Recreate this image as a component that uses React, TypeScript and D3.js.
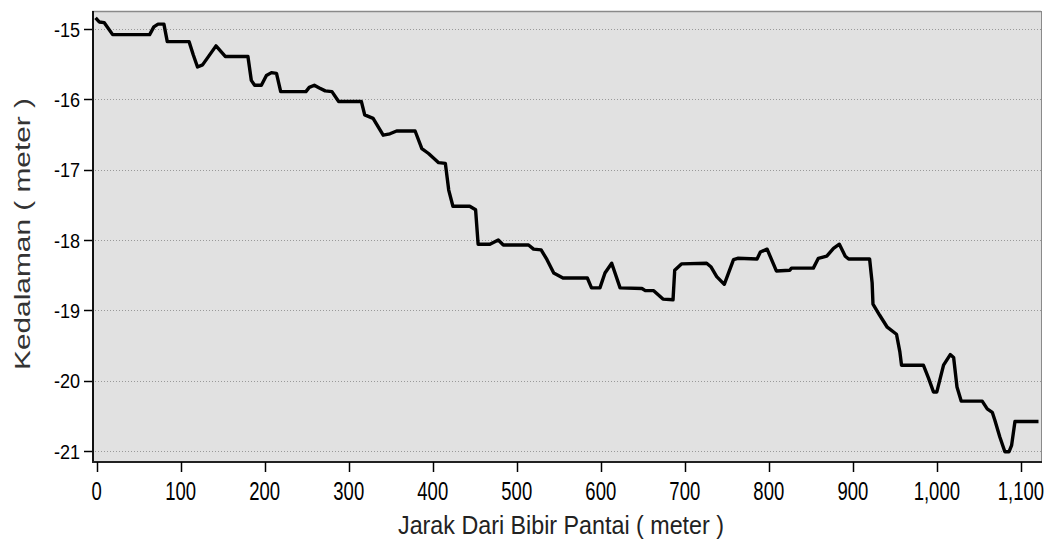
import React from "react";
import * as d3 from "d3";

const distance = [0, 3, 9, 19, 63, 68, 73, 80, 84, 110, 115, 120, 126, 142, 153, 180, 184, 188, 196, 202, 208, 214, 219, 249, 253, 259, 265, 272, 280, 288, 315, 319, 329, 341, 349, 357, 379, 387, 395, 407, 415, 419, 424, 444, 451, 454, 468, 478, 484, 514, 520, 529, 536, 544, 555, 584, 589, 599, 605, 613, 623, 649, 653, 663, 674, 686, 688, 696, 726, 731, 738, 747, 758, 763, 786, 790, 798, 809, 825, 827, 853, 859, 869, 877, 884, 891, 895, 920, 923, 924, 932, 941, 952, 956, 958, 984, 990, 996, 1000, 1008, 1016, 1020, 1024, 1029, 1054, 1060, 1066, 1069, 1075, 1081, 1086, 1089, 1093, 1119];

const depth = [-14.86, -14.90, -14.91, -15.08, -15.08, -14.97, -14.93, -14.93, -15.18, -15.18, -15.37, -15.54, -15.51, -15.24, -15.39, -15.39, -15.73, -15.80, -15.80, -15.66, -15.62, -15.63, -15.89, -15.89, -15.83, -15.80, -15.84, -15.88, -15.89, -16.03, -16.03, -16.22, -16.27, -16.51, -16.49, -16.45, -16.45, -16.70, -16.77, -16.90, -16.91, -17.29, -17.52, -17.52, -17.57, -18.06, -18.06, -18.00, -18.07, -18.07, -18.13, -18.14, -18.28, -18.47, -18.54, -18.54, -18.68, -18.68, -18.47, -18.33, -18.68, -18.69, -18.72, -18.72, -18.84, -18.85, -18.43, -18.34, -18.33, -18.38, -18.52, -18.63, -18.28, -18.26, -18.27, -18.17, -18.13, -18.44, -18.43, -18.40, -18.40, -18.26, -18.23, -18.12, -18.06, -18.23, -18.27, -18.27, -18.61, -18.91, -19.07, -19.24, -19.34, -19.59, -19.78, -19.78, -19.96, -20.16, -20.16, -19.78, -19.63, -19.67, -20.09, -20.29, -20.29, -20.40, -20.45, -20.56, -20.80, -21.01, -21.01, -20.92, -20.58, -20.58];

const xTicks = [0, 100, 200, 300, 400, 500, 600, 700, 800, 900, 1000, 1100];
const yTicks = [-15, -16, -17, -18, -19, -20, -21];
const xTitle = "Jarak Dari Bibir Pantai ( meter )";
const yTitle = "Kedalaman ( meter )";

const W = 1045;
const H = 543;
const L = 92, R = 1041, T = 11, B = 461;
const FONT = "'Liberation Sans', Arial, sans-serif";

export default function App() {
  const x = d3.scaleLinear().domain([-5.6, 1124]).range([L, R]);
  const y = d3.scaleLinear().domain([-21.142, -14.744]).range([B, T]);
  const pts: [number, number][] = distance.map((d, i) => [d, depth[i]]);
  const line = d3
    .line<[number, number]>()
    .x((d) => x(d[0]))
    .y((d) => y(d[1]));
  const fmt = d3.format(",");

  return (
    <svg
      width={W}
      height={H}
      style={{ position: "fixed", left: 0, top: 0, background: "#fff" }}
    >
      <rect x={L} y={T} width={R - L} height={B - T} fill="#e1e1e1" />
      {yTicks.map((t) => (
        <line
          key={"g" + t}
          x1={L}
          x2={R}
          y1={Math.round(y(t)) + 0.5}
          y2={Math.round(y(t)) + 0.5}
          stroke="#999"
          strokeWidth={1}
          strokeDasharray="1 2"
        />
      ))}
      <line x1={L} x2={R} y1={T + 0.5} y2={T + 0.5} stroke="#8a8a8a" strokeWidth={1.5} />
      <line x1={R + 0.5} x2={R + 0.5} y1={T} y2={B} stroke="#8a8a8a" strokeWidth={1} />
      <path
        d={line(pts) || ""}
        fill="none"
        stroke="#000"
        strokeWidth={3.4}
        strokeLinejoin="round"
        strokeLinecap="square"
      />
      <line x1={L + 1} x2={L + 1} y1={T} y2={B + 1} stroke="#111" strokeWidth={2} />
      <line x1={L} x2={R + 1} y1={B + 1} y2={B + 1} stroke="#222" strokeWidth={2} />
      {yTicks.map((t) => (
        <g key={"yt" + t}>
          <line x1={84} x2={L} y1={Math.round(y(t)) + 0.5} y2={Math.round(y(t)) + 0.5} stroke="#000" strokeWidth={1.5} />
          <text
            transform={`translate(80,${y(t)}) scale(0.86,1)`}
            textAnchor="end"
            dominantBaseline="central"
            fontFamily={FONT}
            fontSize={21}
            fill="#000"
          >
            {String(t)}
          </text>
        </g>
      ))}
      {xTicks.map((t) => (
        <g key={"xt" + t}>
          <line x1={Math.round(x(t)) + 0.5} x2={Math.round(x(t)) + 0.5} y1={B + 1} y2={472} stroke="#000" strokeWidth={1.5} />
          <text
            transform={`translate(${x(t)},${500}) scale(0.74,1)`}
            textAnchor="middle"
            fontFamily={FONT}
            fontSize={25}
            fill="#000"
          >
            {fmt(t)}
          </text>
        </g>
      ))}
      <text
        x={561}
        y={534}
        textAnchor="middle"
        fontFamily={FONT}
        fontSize={26}
        fill="#222"
        textLength={326}
        lengthAdjust="spacingAndGlyphs"
      >
        {xTitle}
      </text>
      <text
        transform={`translate(30,234) scale(0.85,1) rotate(-90)`}
        textAnchor="middle"
        fontFamily={FONT}
        fontSize={27}
        fill="#333"
        textLength={272}
        lengthAdjust="spacingAndGlyphs"
      >
        {yTitle}
      </text>
    </svg>
  );
}
